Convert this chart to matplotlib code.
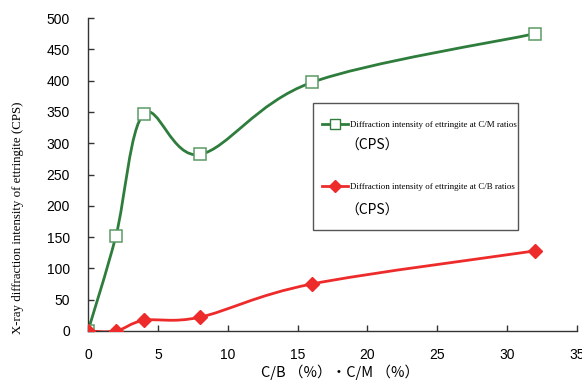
import numpy as np
import matplotlib as mpl
mpl.use('Agg')
import matplotlib.pyplot as plt
from matplotlib.path import Path
from matplotlib.patches import PathPatch, Rectangle

# data
ratio = [0, 2, 4, 8, 16, 32]
cm_cps = [0, 152, 347, 282, 397, 475]
cb_cps = [0, 0, 17, 22, 75, 128]
cm_label = 'Diffraction intensity of ettringite at C/M ratios'
cb_label = 'Diffraction intensity of ettringite at C/B ratios'
unit_label = '（CPS）'
xticks = [0, 5, 10, 15, 20, 25, 30, 35]
yticks = [0, 50, 100, 150, 200, 250, 300, 350, 400, 450, 500]

green = '#2e7d3c'
red = '#ee2b2b'

W, H = 582, 383


def smooth_path(x, y, sx, sy, t=1/6):
    # Excel-like smoothed line as cubic bezier segments
    p = np.column_stack([np.array(x) * sx, np.array(y) * sy])
    n = len(p)
    verts = [p[0]]
    codes = [Path.MOVETO]
    for i in range(n - 1):
        p0 = p[i - 1] if i > 0 else p[i]
        p1 = p[i]
        p2 = p[i + 1]
        p3 = p[i + 2] if i + 2 < n else p[i + 1]
        c1 = p1 + (p2 - p0) * t
        c2 = p2 - (p3 - p1) * t
        verts += [c1, c2, p2]
        codes += [Path.CURVE4] * 3
    verts = np.array(verts)
    verts[:, 0] /= sx
    verts[:, 1] /= sy
    return Path(verts, codes)


def fx(px):
    return px / W


def fy(py):
    return 1 - py / H


fig = plt.figure(figsize=(5.82, 3.83), dpi=100)
ax = fig.add_axes([fx(88), fy(331), (577 - 88) / W, (331 - 18) / H])

sx = 489 / 35
sy = 313 / 500
ax.add_patch(PathPatch(smooth_path(ratio, cm_cps, sx, sy), fill=False,
                       edgecolor=green, lw=2.0, zorder=2))
ax.add_patch(PathPatch(smooth_path(ratio, cb_cps, sx, sy), fill=False,
                       edgecolor=red, lw=2.0, zorder=2))

ax.plot(ratio, cm_cps, ls='none', marker='s', ms=9, mfc='white', mec='#5a9a66',
        mew=1.1, zorder=3)
ax.plot(ratio, cb_cps, ls='none', marker='D', ms=7, mfc=red, mec=red, zorder=4)

# legend box
fig.patches.append(Rectangle((fx(313), fy(230)), (518 - 313) / W, (230 - 103) / H,
                             transform=fig.transFigure, facecolor='white',
                             edgecolor='#555555', lw=1.0, zorder=5))

h1, = ax.plot([], [], color=green, lw=2.0, marker='s', ms=7, mfc='white',
              mec=green, mew=1.0)
h2, = ax.plot([], [], color=red, lw=2.0, marker='D', ms=6, mfc=red, mec=red)
leg = fig.legend([h1, h2], [cm_label, cb_label], loc='upper left',
                 bbox_to_anchor=(fx(322), fy(121)), frameon=False,
                 borderpad=0, borderaxespad=0, labelspacing=6.0,
                 handlelength=2.9, handletextpad=0.3,
                 prop={'family': 'Liberation Serif', 'size': 6.4})
leg.set_zorder(6)
for yy in [146, 211]:
    fig.text(fx(345), fy(yy), unit_label, family=['Noto Sans CJK JP', 'DejaVu Sans'],
             size=10, va='center', ha='left', zorder=7)

ax.set_xlim(0, 35)
ax.set_ylim(0, 500)
ax.set_xticks(xticks)
ax.set_yticks(yticks)
ax.tick_params(direction='in', length=4, width=1, colors='#333333', labelsize=10,
               labelcolor='black')
ax.tick_params(axis='x', pad=12)
ax.tick_params(axis='y', pad=13)
for lab in ax.get_xticklabels() + ax.get_yticklabels():
    lab.set_family('Liberation Sans')

for s in ['top', 'right']:
    ax.spines[s].set_visible(False)
for s in ['left', 'bottom']:
    ax.spines[s].set_color('#333333')
    ax.spines[s].set_linewidth(1.0)

ax.set_ylabel('X-ray diffraction intensity of ettringite (CPS)',
              family=['Liberation Serif', 'Noto Sans CJK JP'], size=9.3)
ax.yaxis.set_label_coords((24 - 88) / 489, (331 - 218) / 313)
ax.set_xlabel('C/B （%）・C/M （%）', family=['Noto Sans CJK JP', 'DejaVu Sans'],
              size=10.5, va='center')
ax.xaxis.set_label_coords((340 - 88) / 489, -(372 - 331) / 313)

fig.savefig('out.png', dpi=100)
